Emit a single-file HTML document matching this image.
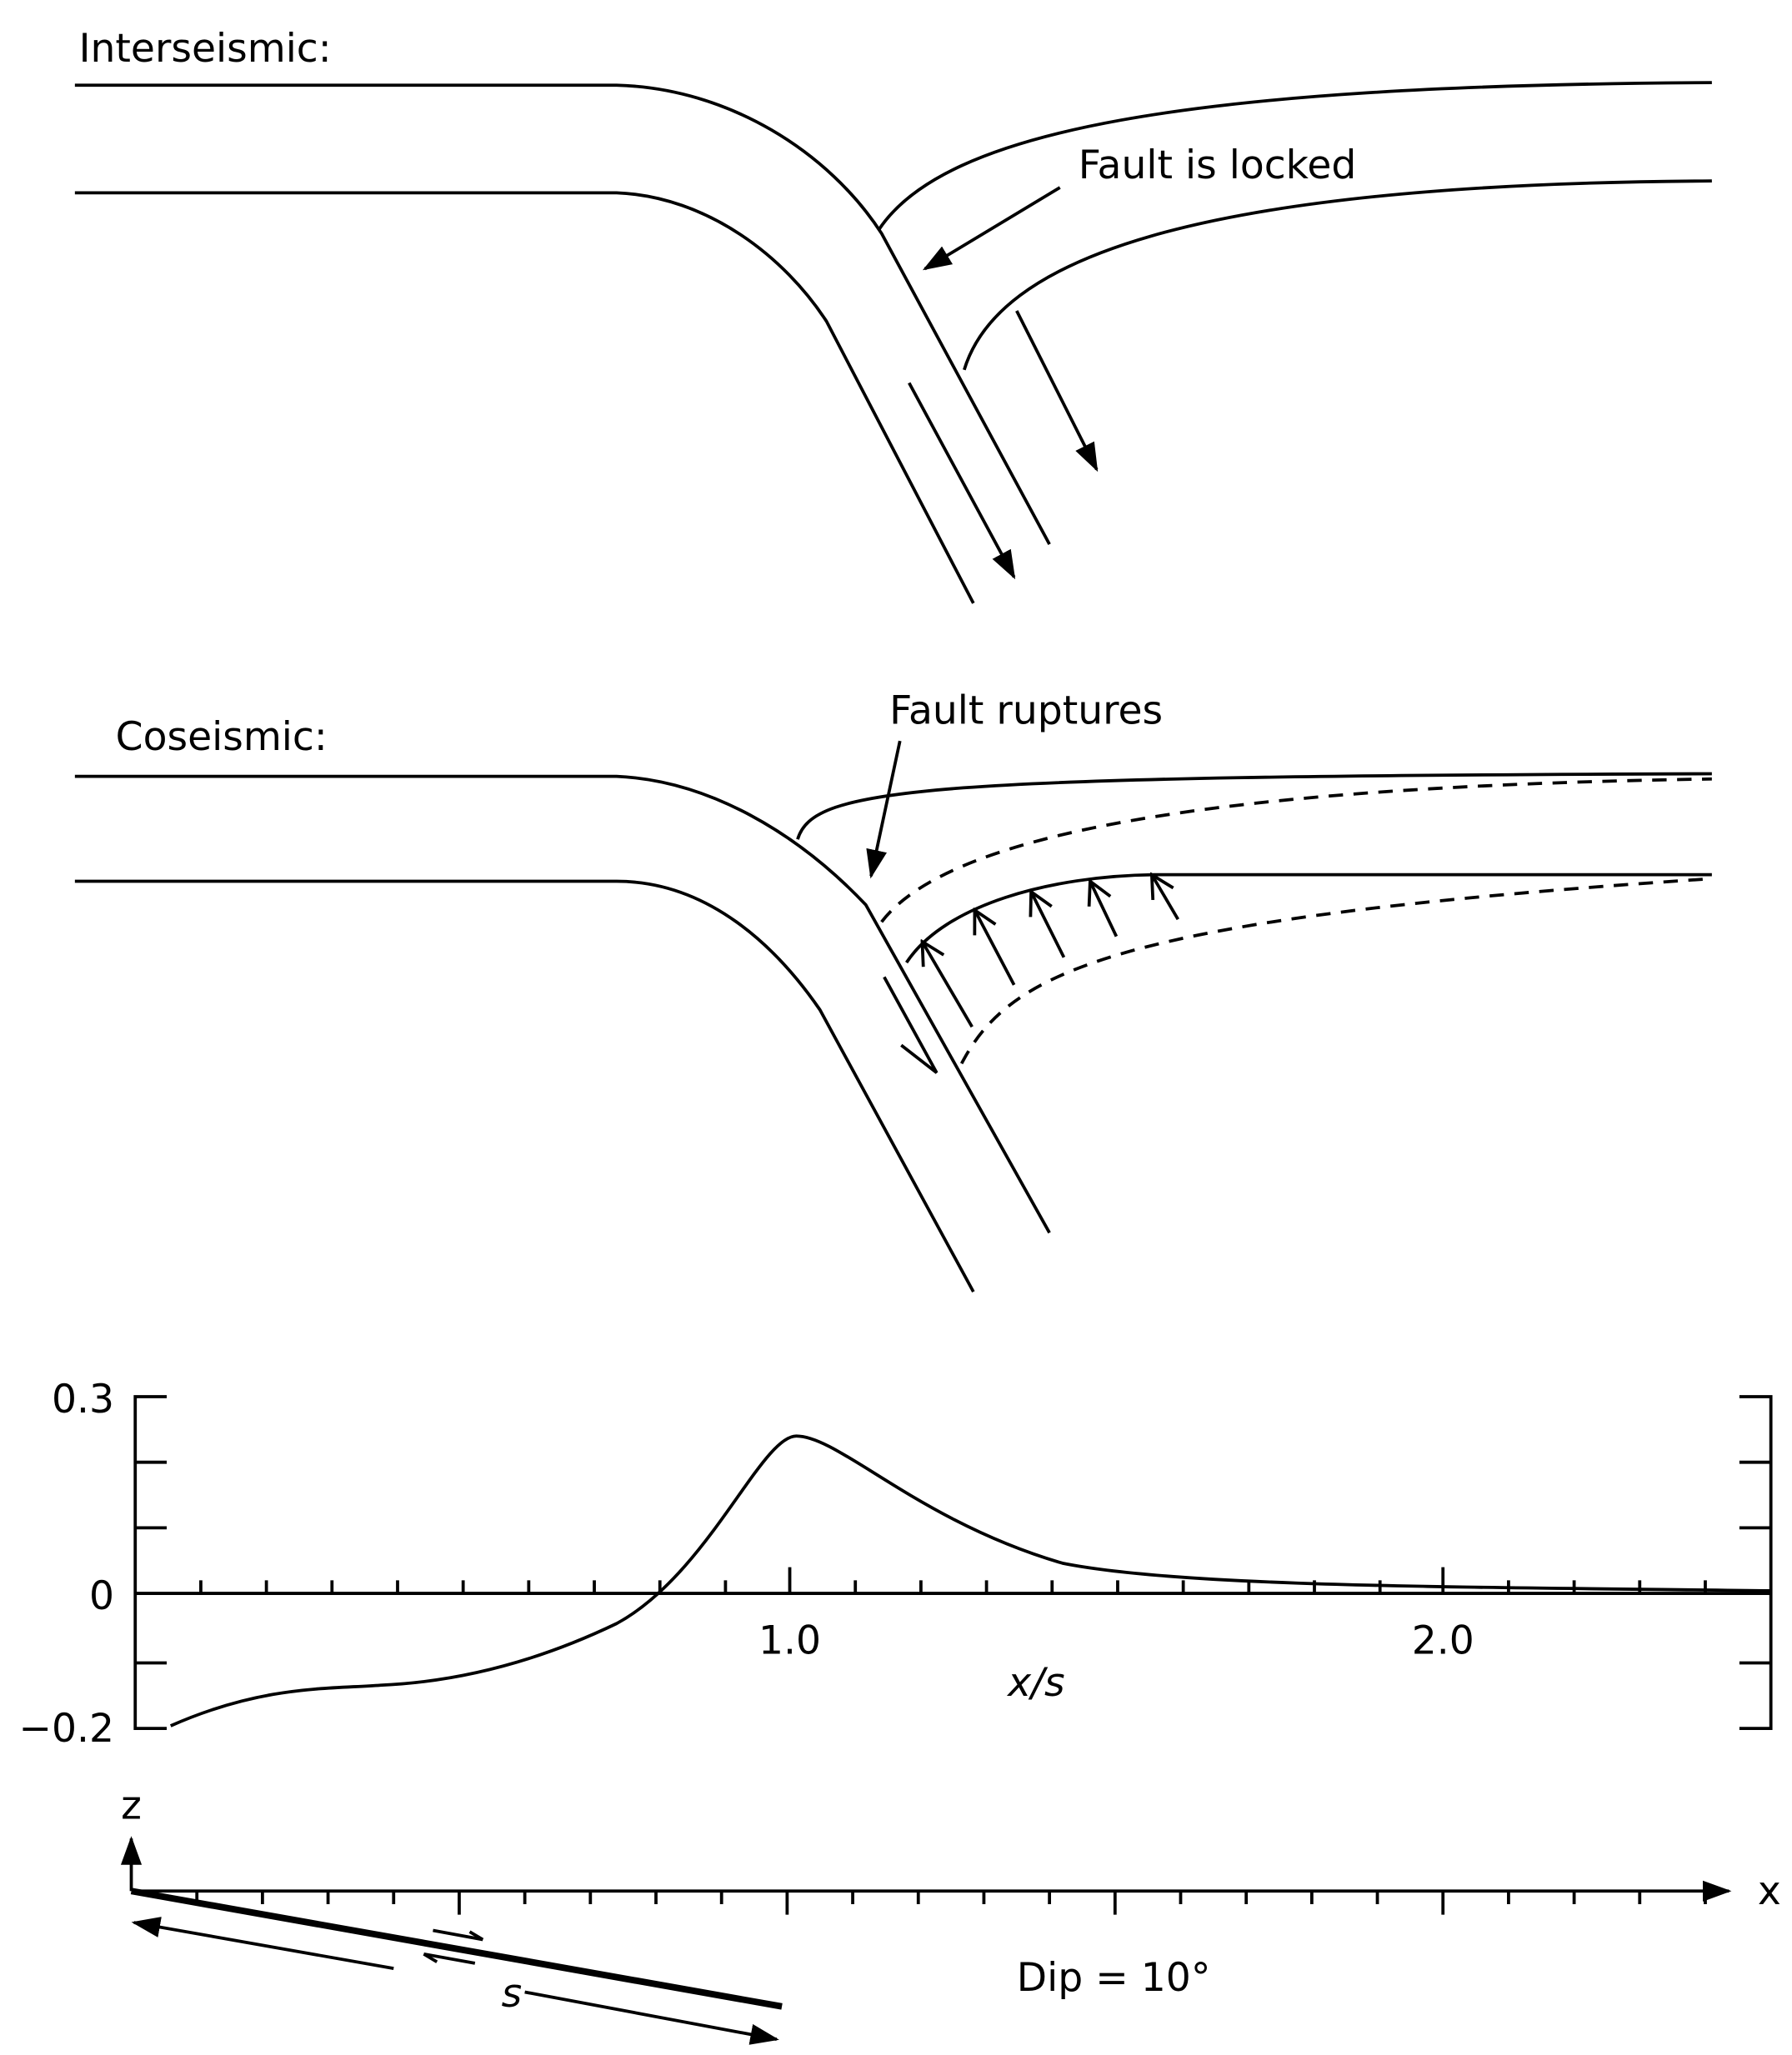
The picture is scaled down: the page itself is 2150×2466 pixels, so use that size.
<!DOCTYPE html>
<html><head><meta charset="utf-8"><style>html,body{margin:0;padding:0;background:#fff}svg{display:block}</style></head><body>
<svg width="2150" height="2466" viewBox="0 0 1366 1567" xmlns="http://www.w3.org/2000/svg">
<defs>
<marker id="ahb" markerWidth="22" markerHeight="16" refX="20" refY="8" orient="auto" markerUnits="userSpaceOnUse" viewBox="0 0 22 16"><path d="M0,0 L22,8 L0,16 z" fill="#000"/></marker>
<marker id="ov" markerWidth="22" markerHeight="22" refX="20" refY="11" orient="auto" markerUnits="userSpaceOnUse" viewBox="0 0 22 22"><path d="M3,2 L20,11 L3,20" fill="none" stroke="#000" stroke-width="2.4"/></marker>
</defs>
<g fill="none" stroke="#000" stroke-width="2.4">
<path d="M57,65 H470 C555,67 632,116 672,178 L800,415"/>
<path d="M57,147 H470 C540,150 598,196 630,245 L742,460"/>
<path d="M670,175 C720,100 900,65 1305,63"/>
<path d="M735,282 C760,200 900,140 1305,138"/>
<line x1="808" y1="143" x2="705" y2="205" marker-end="url(#ahb)"/>
<line x1="693" y1="292" x2="773" y2="440" marker-end="url(#ahb)"/>
<line x1="775" y1="237" x2="836" y2="358" marker-end="url(#ahb)"/>
<path d="M57,592 H470 C540,595 608,635 660,690 L800,940"/>
<path d="M57,672 H470 C540,672 592,722 625,770 L742,985"/>
<path d="M608,640 C620,600 700,592 1305,590"/>
<path d="M672,703 C720,640 900,600 1305,594" stroke-dasharray="11,8"/>
<path d="M691,734 C720,690 800,668 880,667 H1305"/>
<path d="M733,811 C770,740 850,700 1305,670" stroke-dasharray="11,8"/>
<line x1="686" y1="565" x2="664" y2="668" marker-end="url(#ahb)"/>
<path d="M674,745 L714,818 L687,797"/>
<line x1="741" y1="783" x2="703" y2="718" marker-end="url(#ov)"/>
<line x1="773" y1="751" x2="743" y2="694" marker-end="url(#ov)"/>
<line x1="811" y1="730" x2="786" y2="680" marker-end="url(#ov)"/>
<line x1="851" y1="714" x2="831" y2="672" marker-end="url(#ov)"/>
<line x1="898" y1="701" x2="878" y2="667" marker-end="url(#ov)"/>
<path d="M127,1065 H103 V1318 H127 M103,1115 H127 M103,1165 H127 M103,1268 H127"/>
<path d="M1326,1065 H1350 V1318 H1326 M1326,1115 H1350 M1326,1165 H1350 M1326,1215 H1350 M1326,1268 H1350"/>
<line x1="103" y1="1215" x2="1350" y2="1215"/>
<path d="M153,1215v-10 M203,1215v-10 M253,1215v-10 M303,1215v-10 M353,1215v-10 M403,1215v-10 M453,1215v-10 M503,1215v-10 M553,1215v-10 M602,1215v-20 M652,1215v-10 M702,1215v-10 M752,1215v-10 M802,1215v-10 M852,1215v-10 M902,1215v-10 M952,1215v-10 M1002,1215v-10 M1052,1215v-10 M1100,1215v-20 M1150,1215v-10 M1200,1215v-10 M1250,1215v-10 M1300,1215v-10"/>
<path d="M130,1316 C200,1285 250,1288 290,1285 C360,1282 420,1262 470,1238 C540,1200 580,1095 607,1095 C640,1095 700,1160 810,1192 C900,1210 1100,1210 1350,1213"/>
<line x1="100" y1="1442" x2="100" y2="1402" marker-end="url(#ahb)"/>
<line x1="100" y1="1442" x2="1318" y2="1442" marker-end="url(#ahb)"/>
<path d="M150,1442v10 M200,1442v10 M250,1442v10 M300,1442v10 M350,1442v18 M400,1442v10 M450,1442v10 M500,1442v10 M550,1442v10 M600,1442v18 M650,1442v10 M700,1442v10 M750,1442v10 M800,1442v10 M850,1442v18 M900,1442v10 M950,1442v10 M1000,1442v10 M1050,1442v10 M1100,1442v18 M1150,1442v10 M1200,1442v10 M1250,1442v10 M1300,1442v10"/>
<line x1="100" y1="1442" x2="596" y2="1530" stroke-width="5"/>
<line x1="330" y1="1472" x2="368" y2="1479"/><path d="M368,1479 l-10,-6"/>
<line x1="362" y1="1497" x2="323" y2="1490"/><path d="M323,1490 l10,6"/>
<line x1="300" y1="1501" x2="102" y2="1466" marker-end="url(#ahb)"/>
<line x1="400" y1="1519" x2="592" y2="1555" marker-end="url(#ahb)"/>
</g>
<g font-family="'DejaVu Sans', 'Liberation Sans', sans-serif" font-size="30" fill="#000">
<text x="60" y="47">Interseismic:</text>
<text x="822" y="136">Fault is locked</text>
<text x="88" y="572">Coseismic:</text>
<text x="678" y="552">Fault ruptures</text>
<text x="87" y="1077" text-anchor="end">0.3</text>
<text x="87" y="1227" text-anchor="end">0</text>
<text x="87" y="1328" text-anchor="end">−0.2</text>
<text x="602" y="1261" text-anchor="middle">1.0</text>
<text x="1100" y="1261" text-anchor="middle">2.0</text>
<text x="790" y="1293" text-anchor="middle" font-style="italic">x/s</text>
<text x="100" y="1387" text-anchor="middle">z</text>
<text x="1340" y="1452">x</text>
<text x="390" y="1530" text-anchor="middle" font-style="italic">s</text>
<text x="775" y="1518">Dip = 10°</text>
</g>
</svg>
</body></html>
